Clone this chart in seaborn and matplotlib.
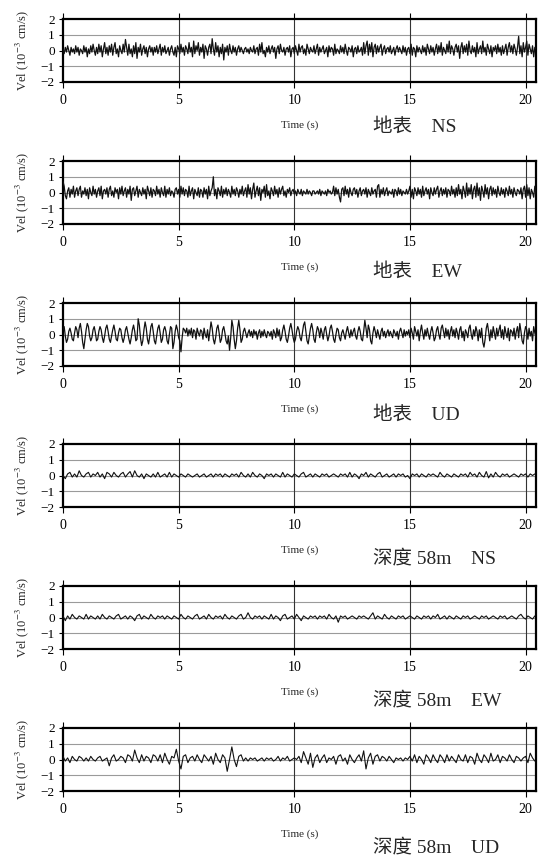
import numpy as np
import pandas as pd
import matplotlib
matplotlib.use("Agg")
import matplotlib.pyplot as plt
import seaborn as sns

# ground surface traces, sampled every 0.05 s (Vel in 10^-3 cm/s)
dt_surface = 0.05
surface_ns = [
    0.1,-0.2,0.2,-0.1,0.3,0.0,-0.3,0.2,-0.1,0.1,-0.2,0.3,-0.1,0.2,-0.3,0.1,0.0,-0.2,0.3,-0.1,
    0.2,-0.4,0.1,-0.2,0.3,-0.1,0.4,0.0,-0.3,0.2,-0.2,0.4,-0.1,0.3,-0.4,0.1,0.5,-0.2,0.2,-0.3,
    0.3,-0.1,0.4,-0.3,0.2,0.5,-0.2,0.1,-0.4,0.3,0.0,-0.2,0.4,-0.1,0.7,0.2,-0.3,0.4,-0.2,0.1,
    -0.4,0.3,-0.2,0.5,-0.5,0.2,-0.1,0.4,-0.3,0.1,0.3,-0.2,0.2,-0.4,0.1,0.3,-0.1,0.2,-0.3,0.2,
    -0.1,0.3,-0.2,0.1,0.4,-0.3,0.2,-0.1,0.3,-0.2,0.0,0.2,-0.3,0.1,0.3,-0.1,-0.3,0.2,-0.4,0.3,
    0.1,-0.2,0.4,-0.1,0.2,-0.3,0.3,0.1,-0.2,0.5,-0.1,0.2,-0.4,0.6,-0.2,0.3,0.0,0.5,-0.3,0.2,
    -0.1,0.4,-0.5,0.3,0.1,-0.3,0.2,0.4,-0.2,0.75,0.1,-0.3,0.5,-0.1,0.3,-0.4,0.2,-0.2,0.4,-0.6,
    0.2,-0.1,0.3,-0.3,0.4,0.0,-0.2,0.3,-0.1,0.2,-0.3,0.1,0.3,-0.1,0.2,0.0,-0.2,0.1,0.2,-0.1,
    0.1,-0.2,0.2,0.0,-0.1,0.3,-0.2,0.1,0.2,-0.3,0.4,-0.1,0.5,-0.2,0.0,-0.4,0.2,-0.1,0.3,-0.2,
    0.1,0.3,-0.1,0.2,-0.5,0.1,0.3,-0.2,0.4,0.0,-0.1,0.2,-0.3,0.1,0.2,-0.1,0.3,-0.4,0.1,0.2,
    -0.2,0.3,0.0,-0.3,0.4,-0.1,0.2,0.3,-0.2,0.1,-0.3,0.4,0.1,-0.2,0.2,0.0,-0.1,0.3,-0.2,0.1,
    0.4,-0.3,0.2,-0.1,0.1,0.3,-0.2,0.0,0.2,-0.4,0.3,-0.1,0.2,0.1,-0.3,0.4,-0.2,0.1,0.0,-0.2,
    0.3,-0.1,0.2,-0.2,0.4,0.0,-0.3,0.2,0.1,-0.1,0.3,-0.4,0.1,0.2,-0.2,0.3,-0.1,0.0,0.2,-0.3,
    0.5,-0.2,0.3,0.6,-0.3,0.4,-0.1,0.5,-0.4,0.2,0.4,-0.2,0.3,-0.1,0.2,0.4,-0.3,0.1,0.3,-0.2,
    0.1,0.2,-0.1,0.3,-0.2,0.0,0.2,-0.3,0.1,0.3,-0.1,0.2,0.0,-0.2,0.3,-0.1,0.2,-0.3,0.1,0.2,
    -0.2,0.4,-0.3,0.2,0.1,-0.4,0.3,-0.1,0.2,0.0,-0.2,0.3,-0.1,0.2,-0.3,0.4,0.1,-0.2,0.3,-0.1,
    0.2,-0.3,0.1,0.4,-0.2,0.3,-0.1,0.5,-0.3,0.2,0.0,-0.2,0.4,-0.1,0.6,-0.2,0.3,0.1,-0.3,0.2,
    0.4,-0.1,0.3,-0.5,0.2,0.5,-0.2,0.3,-0.1,0.4,-0.3,0.6,0.0,-0.2,0.3,-0.1,0.2,-0.4,0.5,-0.2,
    0.1,0.3,-0.2,0.6,-0.1,0.2,-0.3,0.4,0.1,-0.2,0.3,-0.4,0.2,0.0,0.3,-0.2,0.4,-0.1,0.2,-0.3,
    0.3,-0.2,0.1,0.4,-0.3,0.2,0.5,-0.1,0.3,-0.2,0.4,0.1,-0.3,0.2,0.9,-0.2,0.3,-0.4,0.5,-0.1,
    0.2,0.6,-0.3,0.4,0.1,-0.2,0.3,-0.4,0.2,0.1,
]
surface_ew = [
    0.7,0.4,-0.2,-0.4,0.1,0.3,-0.3,0.2,-0.1,0.4,-0.3,0.1,0.3,-0.2,0.2,0.4,-0.3,0.1,-0.1,0.3,
    -0.2,0.2,-0.4,0.3,0.0,-0.2,0.4,-0.1,0.2,-0.3,0.1,0.3,-0.2,0.4,-0.4,0.1,0.2,-0.1,0.3,-0.3,
    0.2,0.4,-0.2,0.1,-0.3,0.3,0.0,0.2,-0.4,0.3,-0.1,0.4,-0.2,0.1,0.3,-0.3,0.2,-0.1,0.4,-0.5,
    0.2,0.3,-0.2,0.1,0.4,-0.3,0.2,0.0,-0.2,0.3,-0.1,0.2,-0.4,0.4,0.1,-0.2,0.3,-0.3,0.2,0.1,
    -0.2,0.4,-0.1,0.2,-0.3,0.3,0.0,-0.2,0.4,-0.3,0.2,-0.1,0.3,-0.2,0.1,0.0,-0.3,0.2,0.3,-0.1,
    0.2,-0.3,0.4,-0.1,0.3,-0.2,0.2,0.1,-0.3,0.4,-0.2,0.1,0.3,-0.4,0.2,0.0,-0.2,0.3,-0.3,0.2,
    0.1,-0.3,0.3,-0.1,0.2,-0.4,0.4,-0.2,0.1,0.3,1.0,-0.2,0.2,-0.4,0.3,0.1,-0.2,0.4,-0.3,0.2,
    -0.1,0.3,-0.2,0.2,0.0,-0.3,0.4,-0.1,0.2,-0.2,0.3,0.1,-0.3,0.2,-0.1,0.4,-0.2,0.1,0.3,-0.3,
    0.5,-0.1,0.3,-0.4,0.2,0.6,-0.3,0.1,0.4,-0.2,0.3,-0.5,0.2,0.0,0.4,-0.3,0.5,-0.2,0.1,-0.4,
    0.3,0.1,-0.2,0.4,-0.1,0.2,-0.3,0.3,-0.1,0.2,0.4,-0.2,0.1,-0.3,0.2,0.0,0.3,-0.2,0.1,0.2,
    -0.1,0.1,-0.2,0.2,0.0,-0.1,0.2,-0.2,0.1,0.0,-0.1,0.2,-0.1,0.1,0.0,-0.2,0.1,0.1,-0.1,0.0,
    0.1,-0.1,0.2,-0.2,0.1,0.0,-0.1,0.1,-0.2,0.2,0.0,0.1,-0.1,0.0,0.4,-0.2,0.3,-0.1,0.2,-0.3,
    -0.6,0.2,0.3,-0.2,0.4,-0.1,0.2,-0.3,0.3,0.0,-0.2,0.2,0.3,-0.1,0.2,-0.3,0.1,0.3,-0.2,0.1,
    0.2,-0.1,0.3,-0.3,0.2,0.0,-0.2,0.3,-0.1,0.1,0.2,-0.3,0.4,0.5,-0.3,0.2,-0.1,0.3,-0.2,0.1,
    0.3,-0.2,0.1,0.0,-0.1,0.2,-0.3,0.2,0.1,-0.2,0.3,-0.1,0.2,-0.2,0.1,0.0,-0.1,0.2,-0.1,0.1,
    0.4,-0.3,0.2,-0.4,0.3,0.1,-0.2,0.3,-0.1,0.2,-0.3,0.4,-0.2,0.1,0.3,-0.1,0.2,-0.4,0.3,0.0,
    -0.2,0.3,-0.1,0.2,0.4,-0.3,0.1,0.3,-0.2,0.2,-0.1,0.3,-0.3,0.2,0.1,-0.2,0.4,-0.1,0.2,-0.3,
    0.3,-0.2,0.5,-0.1,0.2,-0.4,0.4,0.1,-0.3,0.6,-0.2,0.3,-0.1,0.5,-0.4,0.2,0.4,-0.3,0.6,-0.2,
    0.3,-0.5,0.4,0.1,-0.3,0.5,-0.1,0.3,-0.4,0.2,0.4,-0.2,0.3,-0.1,0.2,-0.3,0.4,0.0,-0.2,0.3,
    -0.1,0.2,-0.3,0.3,0.1,-0.2,0.4,-0.1,0.2,-0.3,0.3,0.0,-0.2,0.2,0.1,-0.1,0.3,-0.4,0.2,0.4,
    -0.3,0.5,-0.2,0.3,-0.4,0.2,0.0,-0.3,0.4,-0.1,
]
surface_ud = [
    0.3,0.5,-0.1,-0.5,-0.3,0.2,0.4,0.1,-0.3,-0.4,0.1,0.5,0.3,-0.2,0.4,0.7,0.2,-0.5,-0.9,-0.3,
    0.3,0.7,0.5,-0.1,-0.4,-0.2,0.3,0.5,0.1,-0.4,-0.3,0.2,0.5,0.3,-0.2,-0.5,-0.1,0.4,0.6,0.2,
    -0.3,-0.5,-0.1,0.3,0.6,0.2,-0.3,-0.4,0.1,0.4,0.3,-0.2,-0.5,-0.2,0.3,0.5,0.1,-0.3,-0.6,-0.2,
    0.3,0.6,0.2,-0.4,-0.3,1.0,0.6,-0.2,-0.7,-0.4,0.3,0.8,0.4,-0.3,-0.6,-0.1,0.5,0.7,0.2,-0.4,
    -0.6,-0.1,0.4,0.6,0.1,-0.5,-0.3,0.3,0.5,0.2,-0.4,-0.6,0.0,0.5,0.4,-0.9,-0.5,0.2,0.6,0.3,
    -0.2,-0.4,-1.1,-0.2,0.4,0.3,0.1,0.4,-0.1,0.3,0.0,0.4,-0.2,0.3,0.2,-0.3,0.4,0.1,-0.1,0.3,
    0.2,-0.3,0.4,0.0,-0.2,0.3,-0.4,0.2,0.8,0.4,-0.3,-0.6,-0.2,0.4,0.6,0.1,-0.5,-0.3,0.3,0.5,
    0.1,-0.4,-0.6,-0.1,-1.0,-0.2,0.9,0.5,-0.3,-0.9,-0.4,0.4,0.9,0.3,-0.5,-0.3,0.2,0.4,0.1,-0.2,
    0.1,0.3,-0.1,0.2,-0.2,0.3,0.0,0.2,-0.3,0.1,0.3,-0.2,0.2,-0.1,0.3,0.0,-0.2,0.2,0.1,-0.1,
    0.2,-0.3,0.3,0.1,-0.2,0.4,-0.1,0.3,-0.4,-0.2,0.3,0.6,0.2,-0.3,-0.5,-0.1,0.4,0.7,0.3,-0.2,
    -0.5,-0.3,0.2,0.5,0.3,-0.2,-0.4,0.1,0.6,0.8,0.2,-0.4,-0.6,-0.1,0.4,0.7,0.3,-0.3,-0.5,0.1,
    0.5,0.3,-0.2,0.4,0.1,-0.3,0.3,0.5,0.0,-0.4,-0.1,0.4,0.6,0.2,-0.3,-0.5,0.0,0.4,0.3,-0.2,
    -0.4,0.1,0.3,0.0,-0.3,0.2,0.5,0.1,-0.2,0.3,-0.1,0.2,0.4,-0.1,-0.3,0.2,0.5,0.2,-0.3,-0.4,
    0.2,0.9,0.4,-0.2,0.6,0.3,-0.4,-0.6,0.1,0.5,0.2,-0.2,0.3,0.0,-0.3,0.2,0.4,-0.1,0.2,-0.2,
    0.1,0.3,-0.1,0.2,0.0,-0.2,0.3,0.1,-0.1,0.2,-0.3,0.2,0.4,0.1,-0.2,0.3,-0.1,0.2,0.0,0.3,
    -0.2,0.4,0.1,-0.3,0.5,0.2,-0.1,0.3,-0.4,0.2,0.6,0.1,-0.3,0.3,-0.1,0.4,0.0,-0.3,0.2,0.5,
    0.1,-0.4,-0.2,0.3,0.5,0.0,-0.3,0.4,0.6,0.2,-0.2,0.4,-0.1,0.3,-0.3,0.2,0.5,-0.1,0.3,-0.2,
    0.4,0.1,-0.3,0.3,0.5,-0.2,0.2,-0.4,0.3,0.1,-0.2,0.4,0.6,0.0,-0.3,0.3,-0.1,0.5,0.2,-0.4,
    0.3,-0.2,0.4,-0.5,-0.8,-0.3,0.4,0.7,0.2,-0.4,0.3,-0.2,0.5,0.1,-0.3,0.4,-0.1,0.3,0.6,-0.2,
    0.3,-0.3,0.5,0.1,-0.2,0.4,-0.4,0.3,0.2,-0.1,0.4,-0.3,0.2,0.5,-0.2,0.7,0.2,-0.4,-0.6,0.1,
    0.5,0.3,-0.3,0.4,-0.1,0.2,-0.4,0.5,0.1,-0.2,
]

# 58 m depth traces, sampled every 0.1 s
dt_depth = 0.1
depth_ns = [
    0.0,-0.2,0.1,0.2,-0.1,0.1,-0.1,0.3,0.0,-0.1,
    0.1,0.2,-0.1,0.1,0.0,0.2,-0.1,0.1,-0.2,0.2,
    0.1,-0.1,0.2,0.0,-0.1,0.1,0.2,-0.1,0.1,0.25,
    -0.1,0.3,0.0,-0.1,0.1,-0.2,0.1,0.0,-0.1,0.1,
    -0.1,0.2,-0.1,0.0,0.1,-0.1,0.2,-0.1,0.1,0.0,
    -0.1,0.1,0.0,-0.1,0.1,0.0,-0.1,0.0,0.1,-0.1,
    0.0,0.1,-0.1,0.0,0.1,-0.1,0.1,0.0,0.1,-0.1,
    0.1,0.0,-0.1,0.1,0.0,0.1,-0.1,0.2,0.0,-0.1,
    0.1,-0.1,0.2,0.0,-0.1,0.1,0.0,-0.2,0.1,0.0,
    0.1,-0.1,0.1,0.0,-0.1,0.2,-0.1,0.1,0.0,-0.1,
    0.1,0.0,-0.1,0.1,0.2,-0.1,0.0,0.1,-0.1,0.1,
    0.0,-0.1,0.1,0.0,0.1,-0.1,0.0,0.1,0.0,-0.1,
    0.1,0.0,0.1,-0.1,0.2,-0.1,0.1,0.0,-0.2,0.1,
    0.0,0.2,-0.1,0.1,0.0,-0.1,0.1,0.2,-0.1,0.0,
    0.1,-0.1,0.0,0.1,-0.1,0.1,0.0,0.1,-0.1,0.0,
    -0.2,0.1,0.0,0.1,-0.1,0.1,0.0,-0.1,0.1,0.0,
    0.1,0.0,-0.1,0.2,0.0,-0.1,0.1,0.0,-0.1,0.1,
    0.0,-0.1,0.1,0.0,0.1,-0.1,0.2,0.0,0.1,-0.1,
    0.2,0.0,-0.1,0.25,-0.15,0.1,-0.1,0.2,0.0,-0.1,
    0.1,0.0,0.1,-0.1,0.0,0.1,0.0,-0.1,0.1,0.0,
    0.1,-0.1,0.1,0.0,0.1,
]
depth_ew = [
    0.1,-0.2,0.1,-0.1,0.2,0.0,-0.1,0.1,0.0,-0.1,
    0.2,-0.1,0.1,0.0,-0.1,0.1,-0.1,0.2,0.0,-0.1,
    0.1,0.0,-0.1,0.1,0.2,-0.1,0.0,0.1,-0.1,0.1,
    0.0,-0.2,0.1,0.2,-0.1,0.1,0.0,-0.1,0.2,0.0,
    -0.1,0.1,0.0,0.1,-0.1,0.1,0.0,-0.1,0.1,0.0,
    -0.1,0.2,0.0,-0.1,0.1,0.0,-0.1,0.1,0.2,-0.1,
    0.0,0.1,-0.1,0.2,0.0,-0.1,0.1,0.0,0.1,-0.1,
    0.2,0.0,-0.1,0.1,0.0,-0.1,0.1,0.2,-0.1,0.0,
    0.3,0.0,-0.1,0.1,0.0,0.1,-0.1,0.1,0.0,-0.1,
    0.2,-0.1,0.1,0.0,-0.2,0.1,0.2,-0.1,0.0,0.1,
    -0.1,0.2,0.0,-0.2,0.1,0.0,-0.1,0.1,0.0,0.1,
    -0.1,0.1,0.0,0.1,-0.1,0.2,0.0,-0.1,0.1,-0.3,
    0.1,0.0,0.1,-0.1,0.0,0.1,0.0,-0.1,0.1,0.0,
    0.1,0.0,-0.1,0.1,0.3,-0.1,0.1,0.0,-0.1,0.2,
    0.0,-0.1,0.1,0.0,-0.1,0.1,0.0,0.1,-0.1,0.0,
    0.1,0.0,-0.1,0.1,0.0,-0.1,0.1,0.0,0.1,-0.1,
    0.1,0.0,0.2,-0.1,0.0,0.1,-0.1,0.1,0.0,-0.1,
    0.1,0.0,-0.1,0.1,0.0,0.1,-0.1,0.0,0.1,0.0,
    -0.1,0.1,0.0,0.1,-0.1,0.0,0.1,0.0,-0.1,0.1,
    0.0,0.1,-0.1,0.0,0.1,0.0,-0.1,0.1,0.2,0.0,
    -0.1,0.1,0.0,-0.1,0.1,
]
depth_ud = [
    0.2,-0.1,0.1,-0.2,0.2,0.0,-0.1,0.2,0.1,-0.1,
    0.1,-0.1,0.2,0.0,-0.1,0.1,0.2,-0.1,0.0,0.1,
    -0.4,0.1,0.3,-0.1,0.0,0.2,0.1,-0.2,0.3,0.2,
    -0.1,0.6,0.1,-0.2,0.3,-0.1,0.2,0.1,-0.2,0.3,
    0.2,-0.1,0.3,-0.2,0.4,0.0,-0.3,0.2,0.1,0.65,
    -0.1,-0.6,0.2,0.3,-0.2,0.1,0.2,-0.1,0.3,0.0,
    -0.2,0.3,0.1,-0.1,0.2,-0.3,0.4,0.0,-0.2,0.3,
    0.1,-0.75,0.0,0.8,0.0,-0.45,0.2,0.3,-0.1,0.1,
    -0.1,0.1,0.0,0.1,-0.1,0.0,0.1,-0.1,0.1,0.0,
    0.1,-0.1,0.0,0.2,-0.1,0.1,0.0,0.2,-0.1,0.0,
    0.1,0.0,0.2,-0.2,0.5,0.1,-0.3,0.4,-0.5,0.1,
    0.3,-0.2,0.1,0.3,-0.2,0.1,0.0,0.2,-0.3,0.2,
    0.3,-0.1,0.1,-0.3,0.3,0.0,-0.2,0.1,0.3,-0.1,
    0.55,-0.6,0.1,0.4,-0.3,0.2,0.3,-0.1,0.2,0.1,
    -0.1,0.2,0.0,-0.2,0.1,0.0,0.1,-0.1,0.1,0.0,
    0.2,-0.1,0.3,-0.2,0.2,0.0,-0.3,0.3,0.1,-0.2,
    0.3,0.0,-0.2,0.3,0.1,-0.2,0.3,-0.1,0.2,0.0,
    -0.2,0.3,0.0,-0.1,0.3,-0.2,0.2,0.1,-0.3,0.4,
    0.0,-0.2,0.3,0.1,-0.2,0.4,-0.1,0.0,0.3,-0.2,
    0.2,0.1,-0.1,0.3,0.0,-0.2,0.2,0.1,-0.1,0.1,
    0.2,-0.2,0.4,0.1,-0.1,
]

captions = ["地表　NS", "地表　EW", "地表　UD",
            "深度 58m　NS", "深度 58m　EW", "深度 58m　UD"]
x_ticks = [0, 5, 10, 15, 20]
y_ticks = [-2, -1, 0, 1, 2]

traces = [(surface_ns, dt_surface), (surface_ew, dt_surface), (surface_ud, dt_surface),
          (depth_ns, dt_depth), (depth_ew, dt_depth), (depth_ud, dt_depth)]

sns.set_theme(style="white")
plt.rcParams["font.family"] = ["Liberation Serif", "Noto Sans CJK SC"]
plt.rcParams["mathtext.fontset"] = "stix"

W, H = 538, 860
fig = plt.figure(figsize=(W / 100, H / 100), dpi=100)

panel_tops = [19, 161, 303, 444, 586, 728]   # pixel rows of the y=2 line
cap_off = [45, 48, 49, 51, 51, 56]           # caption centre below axes, px
ax_left, ax_right, ax_h = 63, 536, 63

for i, (vals, dt) in enumerate(traces):
    top = panel_tops[i]
    ax = fig.add_axes([ax_left / W, 1 - (top + ax_h) / H,
                       (ax_right - ax_left) / W, ax_h / H])
    df = pd.DataFrame({"t": np.arange(len(vals)) * dt, "v": vals})
    lw = 0.9 if i < 3 else 0.8
    sns.lineplot(data=df, x="t", y="v", ax=ax, color="#111111", lw=lw,
                 estimator=None, sort=False, zorder=3)

    ax.set_xlim(0, 20.45)
    ax.set_ylim(-2, 2)
    ax.set_xticks(x_ticks)
    ax.set_yticks(y_ticks)
    ax.set_yticklabels([str(v).replace("-", "\u2212") for v in y_ticks])
    ax.set_xlabel("")
    ax.set_ylabel("Vel (10$^{-3}$ cm/s)", fontsize=9, labelpad=7)

    # grid: light horizontal lines, darker verticals
    for yv in [-1, 0, 1]:
        ax.axhline(yv, color="#9a9a9a", lw=0.8, zorder=1)
    for xv in x_ticks[1:]:
        ax.axvline(xv, color="#333333", lw=0.8, zorder=1)

    for s in ax.spines.values():
        s.set_visible(True)
        s.set_color("black")
        s.set_linewidth(1.6)

    ax.tick_params(axis="x", which="both", bottom=True, top=True,
                   direction="out", length=4.5, width=0.8, pad=4,
                   labelsize=10, colors="black")
    ax.tick_params(axis="y", which="both", left=True, direction="out",
                   length=3, width=0.8, pad=3, labelsize=9.5, colors="black")

    ax.text(10.24, -43 / ax_h, "Time (s)", transform=ax.get_xaxis_transform(),
            ha="center", va="center", fontsize=8)
    ax.text((373 - ax_left) / (ax_right - ax_left), -cap_off[i] / ax_h, captions[i],
            transform=ax.transAxes, ha="left", va="center", fontsize=14)

fig.savefig("out.png", dpi=100)
